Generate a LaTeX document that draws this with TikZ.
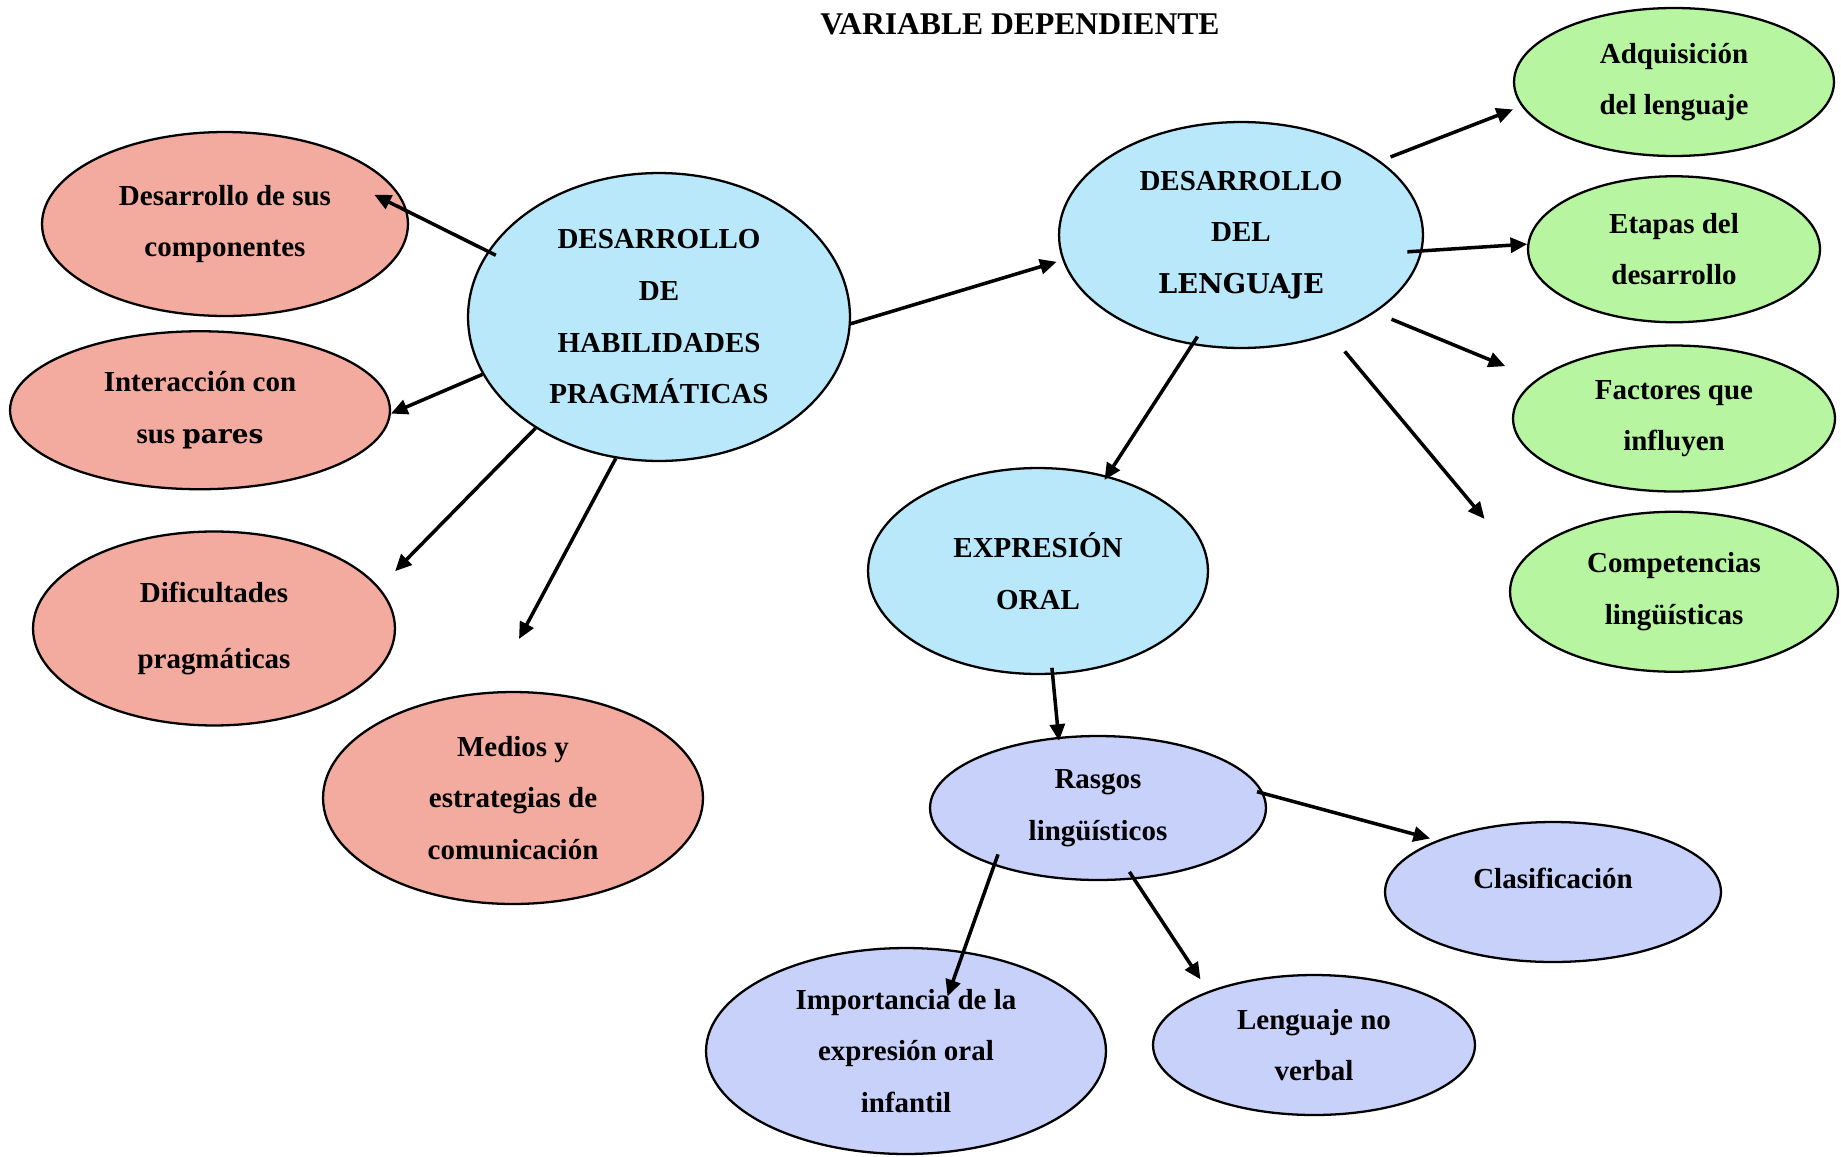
\documentclass[tikz,border=0pt]{standalone}
\usepackage{fontspec}
\setmainfont{Liberation Serif}
\newfontfamily\anchafont{DejaVu Serif}
\usepackage{tikz}
\usetikzlibrary{arrows.meta, positioning, shapes.geometric}
\usepackage{xcolor}
\definecolor{rosa}{RGB}{243,171,159}
\definecolor{celeste}{RGB}{184,232,250}
\definecolor{verde}{RGB}{183,245,161}
\definecolor{lila}{RGB}{199,209,250}

\begin{document}
\begin{tikzpicture}[
    x=0.02cm, y=-0.02cm,
    titulo/.style={
        font=\fontsize{18}{20}\selectfont\bfseries
    },
    burbuja/.style={
        ellipse, 
        draw, 
        line width=1.3pt, 
        inner sep=0pt, 
        align=center, 
        font=\fontsize{16.5}{29.4}\selectfont\bfseries
    },
    central/.style={burbuja, fill=celeste},
    habilidad/.style={burbuja, fill=rosa},
    lenguaje/.style={burbuja, fill=verde},
    rasgo/.style={burbuja, fill=lila},
    arrow/.style={
        -{Triangle[length=9.5pt, width=8.5pt]}, 
        line width=2pt
    }
]
    \useasboundingbox (0,0) rectangle (1841,1156);

    % titulo
    \node (titulo) [titulo] at (1020,24) {VARIABLE DEPENDIENTE};

    % nodos centrales
    \node (hab) [central, minimum width=7.64cm, minimum height=5.76cm] at (659,317) {DESARROLLO\\DE\\HABILIDADES\\PRAGMÁTICAS};
    \node (leng) [central, minimum width=7.28cm, minimum height=4.52cm] at (1241,235) {DESARROLLO\\DEL\\{\anchafont\fontsize{15.5}{29.4}\selectfont LENGUAJE}};
    \node (expr) [central, minimum width=6.8cm, minimum height=4.12cm] at (1038,571) {EXPRESIÓN\\ORAL};

    % ramas de las habilidades pragmaticas
    \node (comp) [habilidad, minimum width=7.32cm, minimum height=3.68cm] at (225,224) {Desarrollo de sus\\componentes};
    \node (pares) [habilidad, minimum width=7.6cm, minimum height=3.16cm, below=0.26cm of comp, xshift=-0.5cm] {Interacción con\\sus {\anchafont\fontsize{15}{29.4}\selectfont pares}};
    \node (dific) [habilidad, minimum width=7.24cm, minimum height=3.88cm, below=0.8cm of pares, xshift=0.28cm] {Dificultades\\[0.3cm]pragmáticas};
    \node (medios) [habilidad, minimum width=7.6cm, minimum height=4.24cm] at (513,798) {Medios y\\estrategias de\\comunicación};
    \coordinate (mediosflecha) at (519,639);

    % ramas del desarrollo del lenguaje
    \node (adq) [lenguaje, minimum width=6.4cm, minimum height=2.96cm] at (1674,82) {Adquisición\\del lenguaje};
    \node (etapas) [lenguaje, minimum width=5.84cm, minimum height=2.92cm, below=0.36cm of adq] {Etapas del\\desarrollo};
    \node (factores) [lenguaje, minimum width=6.44cm, minimum height=2.92cm, below=0.42cm of etapas] {Factores que\\influyen};
    \node (compet) [lenguaje, minimum width=6.56cm, minimum height=3.2cm, below=0.36cm of factores] {Competencias\\lingüísticas};

    % rasgos de la expresion oral
    \node (rasgos) [rasgo, minimum width=6.72cm, minimum height=2.88cm] at (1098,808) {Rasgos\\lingüísticos};
    \node (clasif) [rasgo, minimum width=6.72cm, minimum height=2.8cm, text depth=0.56cm] at (1553,892) {Clasificación};
    \node (import) [rasgo, minimum width=8cm, minimum height=4.12cm] at (906,1051) {Importancia de la\\expresión oral\\infantil};
    \node (noverbal) [rasgo, minimum width=6.44cm, minimum height=2.8cm] at (1314,1045) {Lenguaje no\\verbal};

    % flechas
    \draw[arrow, shorten <=-0.18cm, shorten >=-0.74cm] (hab.159) -- (comp.4);
    \draw[arrow] (hab.198) -- (pares.-1);
    \draw[arrow, shorten >=0.45cm] (hab.222) -- (dific.14.5);
    \draw[arrow] (hab.253) -- (mediosflecha);
    \draw[arrow, shorten >=0.12cm] (hab.-2) -- (leng.188);

    \draw[arrow, shorten <=0.22cm, shorten >=0.18cm] (leng.28) -- (adq.189);
    \draw[arrow, shorten <=-0.3cm] (leng.-5) -- (etapas.178);
    \draw[arrow, shorten <=0.35cm, shorten >=0.68cm] (leng.-30) -- (factores.164.5);
    \draw[arrow, shorten <=0.44cm, shorten >=1.12cm] (leng.-48) -- (compet.169);
    \draw[arrow, shorten <=-0.2cm, shorten >=-0.1cm] (leng.246) -- (expr.54);

    \draw[arrow, shorten <=-0.14cm, shorten >=-0.08cm] (expr.-82) -- (rasgos.119);
    \draw[arrow, shorten <=-0.14cm, shorten >=0.14cm] (rasgos.5) -- (clasif.156);
    \draw[arrow, shorten <=-0.24cm, shorten >=-0.96cm] (rasgos.209) -- (import.60);
    \draw[arrow, shorten <=-0.18cm, shorten >=0.28cm] (rasgos.-63) -- (noverbal.153);

\end{tikzpicture}
\end{document}
